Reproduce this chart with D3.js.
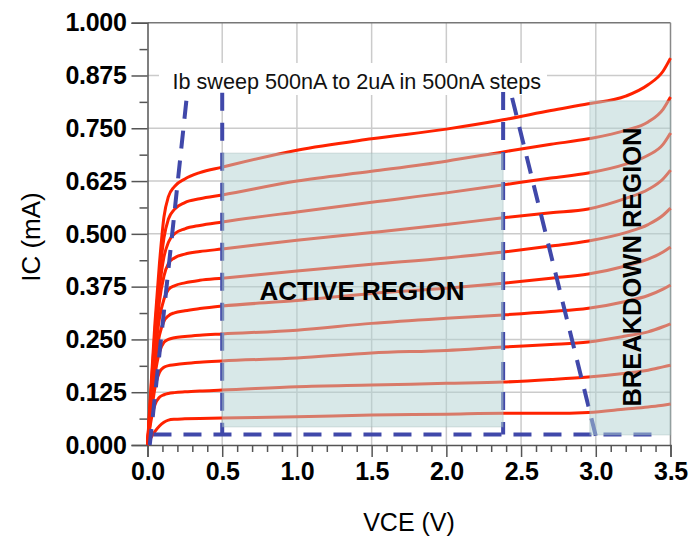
<!DOCTYPE html>
<html>
<head>
<meta charset="utf-8">
<script src="https://cdn.jsdelivr.net/npm/d3@7"></script>
<style>
  html, body { margin: 0; padding: 0; background: #fff; }
  svg { display: block; font-family: "Liberation Sans", Arial, sans-serif; }
</style>
</head>
<body>
<svg id="chart" width="691" height="541"></svg>
<script>
// ---------------- DATA ----------------
const vce = [0, 0.02, 0.05, 0.08, 0.11, 0.14, 0.18, 0.25, 0.35, 0.5, 1.0, 1.5, 2.0, 2.38, 2.7, 2.95, 3.2, 3.35, 3.45, 3.5];
const ic1  = [0, 0.12, 0.29, 0.43, 0.54, 0.588, 0.612, 0.630, 0.645, 0.658, 0.698, 0.725, 0.748, 0.770, 0.792, 0.808, 0.826, 0.853, 0.885, 0.916];
const ic2  = [0, 0.11, 0.27, 0.40, 0.49, 0.535, 0.558, 0.574, 0.583, 0.592, 0.625, 0.648, 0.672, 0.694, 0.712, 0.725, 0.745, 0.765, 0.795, 0.824];
const ic3  = [0, 0.10, 0.25, 0.37, 0.445, 0.48, 0.500, 0.512, 0.520, 0.528, 0.552, 0.575, 0.597, 0.616, 0.632, 0.644, 0.665, 0.686, 0.712, 0.739];
const ic4  = [0, 0.09, 0.23, 0.34, 0.40, 0.430, 0.443, 0.452, 0.458, 0.464, 0.485, 0.503, 0.522, 0.538, 0.550, 0.559, 0.584, 0.605, 0.630, 0.651];
const ic5  = [0, 0.085, 0.21, 0.30, 0.345, 0.368, 0.377, 0.384, 0.390, 0.395, 0.412, 0.428, 0.443, 0.457, 0.471, 0.483, 0.503, 0.522, 0.544, 0.561];
const ic6  = [0, 0.08, 0.19, 0.26, 0.293, 0.306, 0.313, 0.318, 0.323, 0.329, 0.342, 0.359, 0.371, 0.383, 0.395, 0.405, 0.424, 0.440, 0.457, 0.469];
const ic7  = [0, 0.07, 0.165, 0.22, 0.243, 0.250, 0.254, 0.257, 0.260, 0.263, 0.272, 0.288, 0.300, 0.308, 0.316, 0.324, 0.340, 0.354, 0.369, 0.379];
const ic8  = [0, 0.06, 0.135, 0.172, 0.184, 0.188, 0.190, 0.193, 0.196, 0.199, 0.206, 0.218, 0.224, 0.232, 0.238, 0.244, 0.258, 0.268, 0.280, 0.287];
const ic9  = [0, 0.05, 0.095, 0.113, 0.119, 0.122, 0.124, 0.126, 0.128, 0.130, 0.138, 0.142, 0.146, 0.149, 0.155, 0.161, 0.170, 0.177, 0.185, 0.189];
const ic10 = [0, 0.015, 0.032, 0.045, 0.054, 0.059, 0.061, 0.062, 0.063, 0.064, 0.067, 0.071, 0.073, 0.075, 0.075, 0.077, 0.085, 0.090, 0.094, 0.097];
const curves = [ic1, ic2, ic3, ic4, ic5, ic6, ic7, ic8, ic9, ic10];

const yTickValues = [0, 0.125, 0.25, 0.375, 0.5, 0.625, 0.75, 0.875, 1.0];
const yTickLabels = ["0.000", "0.125", "0.250", "0.375", "0.500", "0.625", "0.750", "0.875", "1.000"];
const xTickValues = [0, 0.5, 1.0, 1.5, 2.0, 2.5, 3.0, 3.5];
const xTickLabels = ["0.0", "0.5", "1.0", "1.5", "2.0", "2.5", "3.0", "3.5"];

// shaded regions: [x0, x1, y0, y1]
const activeRegion = [0.5, 2.38, 0.043, 0.691];
const breakdownRegion = [2.96, 3.5, 0.024, 0.815];

// blue dashed boundary lines: [[x,y],[x,y]]
const dashedLines = [
  [[0.04, 0.025], [3.45, 0.025]],
  [[0.5, 0.834], [0.5, 0.025]],
  [[2.38, 0.836], [2.38, 0.025]],
  [[0.26, 0.815], [0.015, 0.0]],
  [[2.44, 0.822], [3.015, 0.0]]
];

const xTitle = "VCE (V)";
const yTitle = "IC (mA)";
const noteText = "Ib sweep 500nA to 2uA in 500nA steps";
const activeText = "ACTIVE REGION";
const breakdownText = "BREAKDOWN REGION";

// ---------------- DRAW ----------------
const svg = d3.select("#chart");
const x = d3.scaleLinear().domain([0, 3.5]).range([147.5, 670.5]);
const y = d3.scaleLinear().domain([0, 1]).range([445, 22.7]);

// grid
const grid = svg.append("g");
grid.selectAll("line.gx").data(xTickValues.filter(v => v > 0 && v < 3.5)).enter().append("line")
  .attr("x1", d => x(d)).attr("x2", d => x(d)).attr("y1", y(1)).attr("y2", y(0))
  .attr("stroke", "#cbcbcb").attr("stroke-width", 1.5);
grid.selectAll("line.gy").data(yTickValues.filter(v => v > 0 && v < 1)).enter().append("line")
  .attr("x1", x(0)).attr("x2", x(3.5)).attr("y1", d => y(d)).attr("y2", d => y(d))
  .attr("stroke", "#cbcbcb").attr("stroke-width", 1.5);
// frame top/right
svg.append("line").attr("x1", x(0)).attr("x2", x(3.5)).attr("y1", y(1)).attr("y2", y(1)).attr("stroke", "#777").attr("stroke-width", 1.5);
svg.append("line").attr("x1", x(3.5)).attr("x2", x(3.5)).attr("y1", y(1)).attr("y2", y(0)).attr("stroke", "#888").attr("stroke-width", 1.5);

// annotation background box
svg.append("rect").attr("x", 159).attr("y", 63).attr("width", 388).attr("height", 32).attr("fill", "#fff");

// axes
const yAxis = d3.axisLeft(y).tickValues(yTickValues).tickFormat((d, i) => yTickLabels[i]).tickSize(16).tickPadding(5);
const yMinor = d3.axisLeft(y).tickValues(d3.range(0.0625, 1, 0.125)).tickFormat("").tickSize(8);
const xAxis = d3.axisBottom(x).tickValues(xTickValues).tickFormat((d, i) => xTickLabels[i]).tickSize(12).tickPadding(5);
const xMinor = d3.axisBottom(x).tickValues(d3.range(0.1, 3.5, 0.1).filter(v => Math.abs(v * 2 - Math.round(v * 2)) > 1e-6)).tickFormat("").tickSize(7);

function styleAxis(g) {
  g.select(".domain").attr("stroke", "#555").attr("stroke-width", 1.5);
  g.selectAll(".tick line").attr("stroke", "#555").attr("stroke-width", 1.5);
  g.selectAll(".tick text").attr("fill", "#000").attr("font-size", 25).attr("font-weight", "bold")
    .attr("font-family", "'Liberation Sans', Arial, sans-serif");
}
const gy = svg.append("g").attr("transform", `translate(${x(0)},0)`).call(yAxis).call(styleAxis);
gy.selectAll(".tick text").attr("dy", "0.33em").attr("letter-spacing", "-0.3px");
svg.append("g").attr("transform", `translate(${x(0)},0)`).call(yMinor).call(styleAxis).select(".domain").remove();
const gx = svg.append("g").attr("transform", `translate(0,${y(0)})`).call(xAxis).call(styleAxis);
gx.selectAll(".tick text").attr("letter-spacing", "-0.3px");
svg.append("g").attr("transform", `translate(0,${y(0)})`).call(xMinor).call(styleAxis).select(".domain").remove();

// curves
const line = d3.line().x((d, i) => x(vce[i])).y(d => y(d)).curve(d3.curveMonotoneX);
svg.append("g").selectAll("path").data(curves).enter().append("path")
  .attr("d", line).attr("fill", "none").attr("stroke", "#ff2200").attr("stroke-width", 3)
  .attr("stroke-linejoin", "round");

// dashed lines
svg.append("g").selectAll("path").data(dashedLines).enter().append("path")
  .attr("d", d => d3.line().x(p => x(p[0])).y(p => y(p[1]))(d))
  .attr("fill", "none").attr("stroke", "#4048aa").attr("stroke-width", 4)
  .attr("stroke-dasharray", "18,12");

// shaded regions
svg.append("g").selectAll("rect").data([activeRegion, breakdownRegion]).enter().append("rect")
  .attr("x", d => x(d[0])).attr("width", d => x(d[1]) - x(d[0]))
  .attr("y", d => y(d[3])).attr("height", d => y(d[2]) - y(d[3]))
  .attr("fill", "rgb(178,210,210)").attr("fill-opacity", 0.5)
  .attr("stroke", "rgb(150,175,175)").attr("stroke-opacity", 0.25).attr("stroke-width", 1.5);

// texts
svg.append("text").attr("x", 172.5).attr("y", 89).attr("font-size", 21.6).attr("fill", "#111").text(noteText);
svg.append("text").attr("x", 362).attr("y", 300).attr("text-anchor", "middle").attr("font-size", 26)
  .attr("font-weight", "bold").attr("fill", "#000").text(activeText);
svg.append("text").attr("transform", "translate(641,267) rotate(-90)").attr("text-anchor", "middle")
  .attr("font-size", 25.5).attr("font-weight", "bold").attr("fill", "#000").text(breakdownText);

svg.append("text").attr("x", 409).attr("y", 531).attr("text-anchor", "middle").attr("font-size", 25)
  .attr("fill", "#000").text(xTitle);
svg.append("text").attr("transform", "translate(40,237) rotate(-90)").attr("text-anchor", "middle")
  .attr("font-size", 26).attr("fill", "#000").text(yTitle);
</script>
</body>
</html>
